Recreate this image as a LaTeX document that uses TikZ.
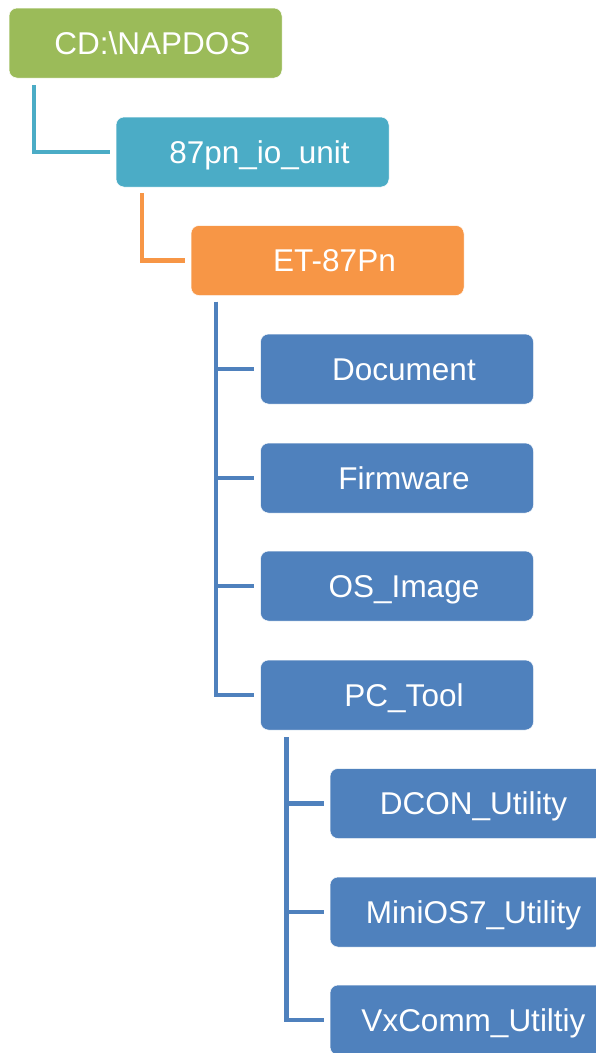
\documentclass[tikz,border=0pt]{standalone}
\usepackage{fontspec}
\setmainfont{Liberation Sans}
\usepackage{tikz}
\definecolor{olivegreen}{HTML}{9BBB59}
\definecolor{aqua}{HTML}{4BACC6}
\definecolor{tangerine}{HTML}{F79646}
\definecolor{steel}{HTML}{4F81BD}
\tikzstyle{folder}=[rectangle, rounded corners=8pt, draw=white, line width=0.5pt, text=white, minimum width=273pt, minimum height=70pt, text height=22.7pt, text depth=0pt, font=\fontsize{31.5}{38}\selectfont]
\tikzstyle{link}=[line width=4.5pt]

\begin{document}
\begin{tikzpicture}[x=1pt, y=-1pt]
		   \useasboundingbox (0,0) rectangle (595,1053);
		   \begin{scope}
			   \node (napdos) at (145.5, 43)[folder, fill=olivegreen] {\hspace*{14pt}CD:\textbackslash NAPDOS};
			   \node (iounit) at (252.5, 152)[folder, fill=aqua] {\hspace*{14pt}87pn\_io\_unit};
			   \node (et) at (327.5, 260.5)[folder, fill=tangerine] {\hspace*{14pt}ET-87Pn};
			   \node (doc) at (397, 369)[folder, fill=steel] {\hspace*{14pt}Document};
			   \node (fw) at (397, 478)[folder, fill=steel] {\hspace*{14pt}Firmware};
			   \node (os) at (397, 586)[folder, fill=steel] {\hspace*{14pt}OS\_Image};
			   \node (pc) at (397, 695)[folder, fill=steel] {\hspace*{14pt}PC\_Tool};
			   \node (dcon) at (466.5, 803.5)[folder, fill=steel] {\hspace*{14pt}DCON\_Utility};
			   \node (minios) at (466.5, 912)[folder, fill=steel] {\hspace*{14pt}MiniOS7\_Utility};
			   \node (vxcomm) at (466.5, 1020)[folder, fill=steel] {\hspace*{14pt}VxComm\_Utiltiy};
		   \end{scope}
		   \begin{scope}
			   \draw [link, aqua] ([xshift=25pt, yshift=-7pt]napdos.south west) |- ([xshift=-6pt]iounit.west);
			   \draw [link, tangerine] ([xshift=26pt, yshift=-6pt]iounit.south west) |- ([xshift=-6pt]et.west);
			   \draw [link, steel] ([xshift=25pt, yshift=-6pt]et.south west) |- ([xshift=-6pt]doc.west);
			   \draw [link, steel] ([xshift=25pt, yshift=-6pt]et.south west) |- ([xshift=-6pt]fw.west);
			   \draw [link, steel] ([xshift=25pt, yshift=-6pt]et.south west) |- ([xshift=-6pt]os.west);
			   \draw [link, steel] ([xshift=25pt, yshift=-6pt]et.south west) |- ([xshift=-6pt]pc.west);
			   \draw [link, steel] ([xshift=26pt, yshift=-7pt]pc.south west) |- ([xshift=-6pt]dcon.west);
			   \draw [link, steel] ([xshift=26pt, yshift=-7pt]pc.south west) |- ([xshift=-6pt]minios.west);
			   \draw [link, steel] ([xshift=26pt, yshift=-7pt]pc.south west) |- ([xshift=-6pt]vxcomm.west);
		   \end{scope}
	   \end{tikzpicture}
\end{document}
